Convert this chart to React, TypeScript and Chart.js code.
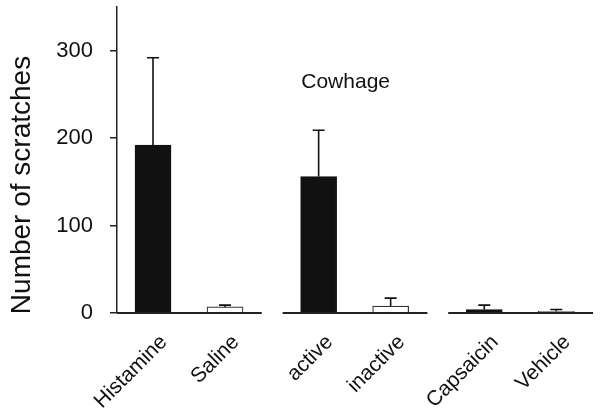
import React, { useEffect, useRef } from "react";
import { Chart, registerables } from "chart.js";

Chart.register(...registerables);

const categories = ["Histamine", "Saline", "active", "inactive", "Capsaicin", "Vehicle"];
const groupOf = [0, 0, 1, 1, 2, 2];
const means = [192, 7, 156, 8, 4, 2];
const upperErrors = [100, 2, 53, 9, 5, 2];
const groupLabels = ["", "Cowhage", ""];
const yTicks = [0, 100, 200, 300];
const yTitle = "Number of scratches";

const GROUP_GAP = 1.3;
const xPos = categories.map((_, i) => groupOf[i] * (1 + GROUP_GAP) + (i % 2));

const FONT = "'Liberation Sans', Arial, Helvetica, sans-serif";
const INK = "#111111";

const decorPlugin = {
  id: "decor",
  afterDatasetsDraw(chart: any) {
    const { ctx } = chart;
    const xs = chart.scales.x;
    const ys = chart.scales.y;
    const y0 = ys.getPixelForValue(0);
    ctx.save();
    ctx.strokeStyle = INK;
    ctx.lineWidth = 1.6;
    means.forEach((m, i) => {
      const px = xs.getPixelForValue(xPos[i]);
      const top = ys.getPixelForValue(m + upperErrors[i]);
      const base = ys.getPixelForValue(m);
      ctx.beginPath();
      ctx.moveTo(px, base);
      ctx.lineTo(px, top);
      ctx.moveTo(px - 6, top);
      ctx.lineTo(px + 6, top);
      ctx.stroke();
    });
    ctx.lineWidth = 2;
    ctx.strokeStyle = "#222";
    const groups = Array.from(new Set(groupOf));
    groups.forEach((g) => {
      const idx = groupOf.map((gg, i) => (gg === g ? i : -1)).filter((i) => i >= 0);
      const a = xPos[idx[0]] - 0.5;
      const b = xPos[idx[idx.length - 1]] + 0.51;
      ctx.beginPath();
      ctx.moveTo(Math.max(xs.getPixelForValue(a), chart.chartArea.left), y0);
      ctx.lineTo(xs.getPixelForValue(b), y0);
      ctx.stroke();
      const label = groupLabels[g];
      if (label) {
        const cx = (xs.getPixelForValue(xPos[idx[0]]) + xs.getPixelForValue(xPos[idx[idx.length - 1]])) / 2;
        ctx.fillStyle = INK;
        ctx.font = `21px ${FONT}`;
        ctx.textAlign = "center";
        ctx.textBaseline = "alphabetic";
        ctx.fillText(label, cx - 9, ys.getPixelForValue(257));
      }
    });
    ctx.save();
    ctx.translate(22, (chart.chartArea.top + chart.chartArea.bottom) / 2 + 25);
    ctx.rotate(-Math.PI / 2);
    ctx.fillStyle = INK;
    ctx.font = `28px ${FONT}`;
    ctx.textAlign = "center";
    ctx.textBaseline = "middle";
    ctx.fillText(yTitle, 0, 0);
    ctx.restore();
    ctx.restore();
  },
};

export default function App() {
  const ref = useRef<HTMLCanvasElement>(null);
  useEffect(() => {
    const chart = new Chart(ref.current!, {
      type: "bar",
      data: {
        datasets: [
          {
            data: means.map((m, i) => ({ x: xPos[i], y: m })),
            backgroundColor: means.map((_, i) => (i % 2 === 0 ? INK : "#ffffff")),
            borderColor: means.map((_, i) => (i % 2 === 0 ? INK : "#333")),
            borderWidth: 1.2,
            barThickness: 36,
          },
        ],
      },
      plugins: [decorPlugin],
      options: {
        responsive: false,
        animation: false,
        layout: { padding: { top: 7, right: 7, left: 0, bottom: 0 } },
        plugins: { legend: { display: false }, tooltip: { enabled: false } },
        scales: {
          x: {
            type: "linear",
            offset: false,
            min: -0.5,
            max: xPos[xPos.length - 1] + 0.51,
            grid: { display: false },
            border: { display: false },
            afterBuildTicks: (s: any) => {
              s.ticks = xPos.map((v) => ({ value: v }));
            },
            afterFit: (s: any) => {
              s.height = 105;
              s.paddingLeft = 0;
              s.paddingRight = 0;
            },
            ticks: {
              autoSkip: false,
              minRotation: 45,
              maxRotation: 45,
              padding: 9,
              labelOffset: 11,
              color: INK,
              font: { family: FONT, size: 21 },
              callback: (_v: any, i: number) => categories[i],
            },
          },
          y: {
            min: 0,
            max: 350,
            afterBuildTicks: (s: any) => {
              s.ticks = yTicks.map((v) => ({ value: v }));
            },
            afterFit: (s: any) => {
              s.width = 117;
              s.paddingTop = 0;
              s.paddingBottom = 0;
            },
            grid: { drawOnChartArea: false, drawTicks: true, tickLength: 7, color: "#222", lineWidth: 1.5 },
            border: { display: true, color: "#222", width: 1.5 },
            ticks: {
              padding: 17,
              color: INK,
              font: { family: FONT, size: 22 },
            },
          },
        },
      },
    });
    return () => chart.destroy();
  }, []);
  return (
    <div style={{ position: "fixed", left: 0, top: 0, width: 600, height: 418, background: "#fff" }}>
      <canvas ref={ref} width={600} height={418} style={{ display: "block" }} />
    </div>
  );
}
